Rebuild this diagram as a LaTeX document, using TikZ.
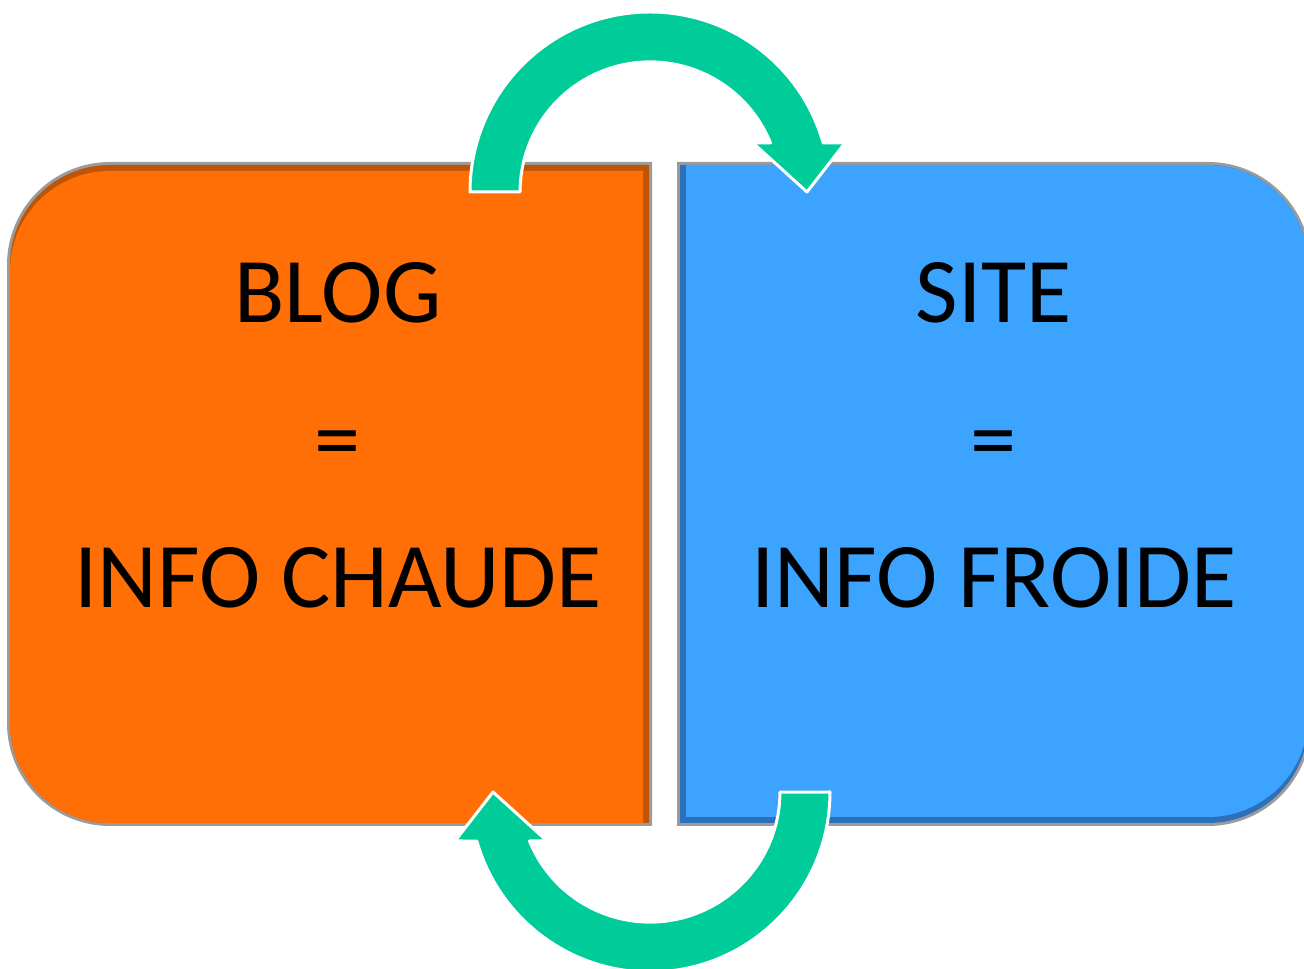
\documentclass[tikz,border=0pt]{standalone}
\usepackage{fontspec}
\setmainfont{Carlito}
\definecolor{orangemain}{RGB}{255,111,5}
\definecolor{orangedark}{RGB}{190,85,5}
\definecolor{bluemain}{RGB}{60,164,255}
\definecolor{bluedark}{RGB}{45,112,185}
\definecolor{arrowgreen}{RGB}{0,204,153}
\definecolor{rimgray}{RGB}{155,155,155}
\tikzset{
  boxtext/.style={font=\fontsize{92.5}{100}\selectfont, text=black, inner sep=0pt, anchor=base},
  rim/.style={draw=rimgray, line width=6pt},
  bigarrow/.style={fill=arrowgreen, draw=white, line width=3pt, line join=round}
}
% left box: #1 left x, #2 right x, #3 top y, #4 bottom y
\newcommand\lboxpath[4]{(#2,#3) -- ({#1+100},#3) arc[start angle=90,end angle=180,radius=100] -- (#1,{#4+100}) arc[start angle=180,end angle=270,radius=100] -- (#2,#4) -- cycle}
% right box: #1 left x, #2 right x, #3 top y, #4 bottom y
\newcommand\rboxpath[4]{(#1,#3) -- ({#2-100},#3) arc[start angle=90,end angle=0,radius=100] -- (#2,{#4+100}) arc[start angle=0,end angle=-90,radius=100] -- (#1,#4) -- cycle}
\newcommand\toparrowpath{(470,777) arc[start angle=180,end angle=15.8,radius=180] -- (845,826) -- (807,777) -- (753,826) -- (770.5,826) arc[start angle=22.1,end angle=180,radius=130] -- cycle}
\begin{document}
\begin{tikzpicture}[x=1pt,y=1pt]
\useasboundingbox (0,0) rectangle (1304,969);
\clip (0,0) rectangle (1304,969);
% left box (orange)
\draw[rim] \lboxpath{10}{649}{804}{146};
\fill[orangedark] \lboxpath{10}{649}{804}{146};
\fill[orangemain] \lboxpath{10}{643}{798}{146};
\coordinate (blogbox) at (330,475);
% right box (blue)
\draw[rim] \rboxpath{680}{1308}{804}{146};
\fill[bluedark] \rboxpath{680}{1308}{804}{146};
\fill[bluemain] \rboxpath{686}{1308}{804}{152};
\coordinate (sitebox) at (994,475);
% texts
\node[boxtext] (blog) at (338,646) {BLOG};
\node[boxtext] (eqleft) at (338,498) {=};
\node[boxtext] (chaude) at (338,361) {INFO CHAUDE};
\node[boxtext] (site) at (994,646) {SITE};
\node[boxtext] (eqright) at (994,498) {=};
\node[boxtext] (froide) at (994,361) {INFO FROIDE};
% arrows
\coordinate (center) at (650,477);
\path[bigarrow] \toparrowpath;
\begin{scope}[rotate around={180:(center)}]
\path[bigarrow] \toparrowpath;
\end{scope}
\end{tikzpicture}
\end{document}
